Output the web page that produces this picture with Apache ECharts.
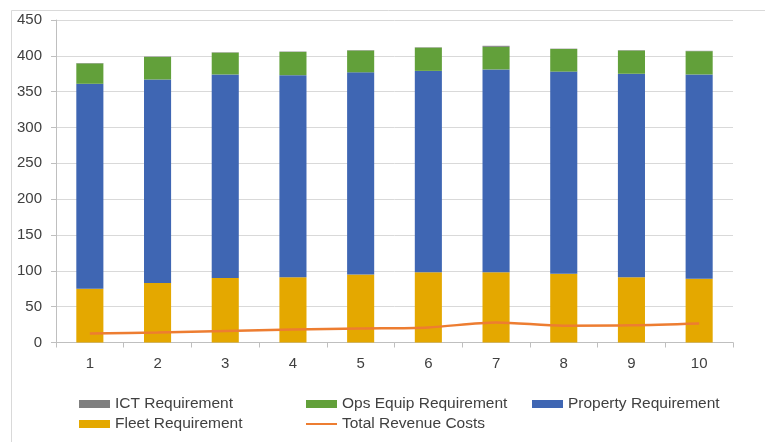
<!DOCTYPE html>
<html>
<head>
<meta charset="utf-8">
<script src="https://cdn.jsdelivr.net/npm/echarts@6/dist/echarts.min.js"></script>
<style>
html,body{margin:0;padding:0;background:#fff;}
#chart{width:765px;height:442px;}
</style>
</head>
<body>
<div id="chart"></div>
<script>
const categories = ['1','2','3','4','5','6','7','8','9','10'];
const fleetRequirement = [75, 83, 90, 91, 95, 98, 98, 96, 91, 89];
const propertyRequirement = [286, 284, 284, 282, 282, 281, 283, 282, 284, 285];
const opsEquipRequirement = [28.5, 31.5, 30.5, 32.5, 30.5, 32.5, 31.5, 31.5, 32.5, 32.5];
const ictRequirement = [0.5, 0.5, 0.5, 0.5, 0.5, 0.5, 1.5, 0.5, 0.5, 0.5];
const totalRevenueCosts = [12.5, 14, 16, 18, 19.5, 21, 28, 23.5, 24, 26.5];

const FONT = '"Liberation Sans", Arial, sans-serif';
const textStyle = {fontFamily: FONT, fontSize: 15.5, color: '#404040'};
const chart = echarts.init(document.getElementById('chart'), null, {renderer: 'canvas'});

const legendBase = {
  orient: 'vertical', top: 391, itemWidth: 31, itemHeight: 8, itemGap: 4,
  textStyle: textStyle, selectedMode: false
};

chart.setOption({
  animation: false,
  backgroundColor: '#ffffff',
  graphic: [{
    type: 'rect', shape: {x: 11.5, y: 10.5, width: 800, height: 500},
    style: {fill: 'none', stroke: '#d9d9d9', lineWidth: 1}, silent: true, z: -10
  }],
  grid: {left: 56, right: 32, top: 20, bottom: 99.5, containLabel: false},
  legend: [
    Object.assign({}, legendBase, {left: 74, data: [
      {name: 'ICT Requirement', icon: 'rect'},
      {name: 'Fleet Requirement', icon: 'rect'}
    ]}),
    Object.assign({}, legendBase, {left: 300, data: [
      {name: 'Ops Equip Requirement', icon: 'rect'},
      {name: 'Total Revenue Costs', itemStyle: {opacity: 0}}
    ]}),
    Object.assign({}, legendBase, {left: 527, data: [
      {name: 'Property Requirement', icon: 'rect'}
    ]})
  ],
  xAxis: {
    type: 'category', data: categories, boundaryGap: true,
    axisLine: {show: true, lineStyle: {color: '#bfbfbf', width: 1}},
    axisTick: {show: true, length: 5, lineStyle: {color: '#bfbfbf'}},
    axisLabel: {fontFamily: FONT, fontSize: 15, color: '#404040', margin: 14},
    splitLine: {show: false}
  },
  yAxis: {
    type: 'value', min: 0, max: 450, interval: 50,
    axisLine: {show: true, lineStyle: {color: '#bfbfbf', width: 1}},
    axisTick: {show: true, length: 5, lineStyle: {color: '#bfbfbf'}},
    axisLabel: {fontFamily: FONT, fontSize: 15, color: '#404040', margin: 14},
    splitLine: {show: true, lineStyle: {color: '#d9d9d9', width: 1}}
  },
  series: [
    {name: 'Fleet Requirement', type: 'bar', stack: 'req', data: fleetRequirement,
     barCategoryGap: '60%', itemStyle: {color: '#E4A800'}},
    {name: 'Property Requirement', type: 'bar', stack: 'req', data: propertyRequirement,
     barCategoryGap: '60%', itemStyle: {color: '#3F66B3'}},
    {name: 'Ops Equip Requirement', type: 'bar', stack: 'req', data: opsEquipRequirement,
     barCategoryGap: '60%', itemStyle: {color: '#62A03A'}},
    {name: 'ICT Requirement', type: 'bar', stack: 'req', data: ictRequirement,
     barCategoryGap: '60%', itemStyle: {color: '#7F7F7F'}},
    {name: 'Total Revenue Costs', type: 'line', data: totalRevenueCosts,
     smooth: 0.3, symbol: 'none', z: 5,
     lineStyle: {color: '#ED7D31', width: 2.5}, itemStyle: {color: '#ED7D31'}}
  ]
});
</script>
</body>
</html>
